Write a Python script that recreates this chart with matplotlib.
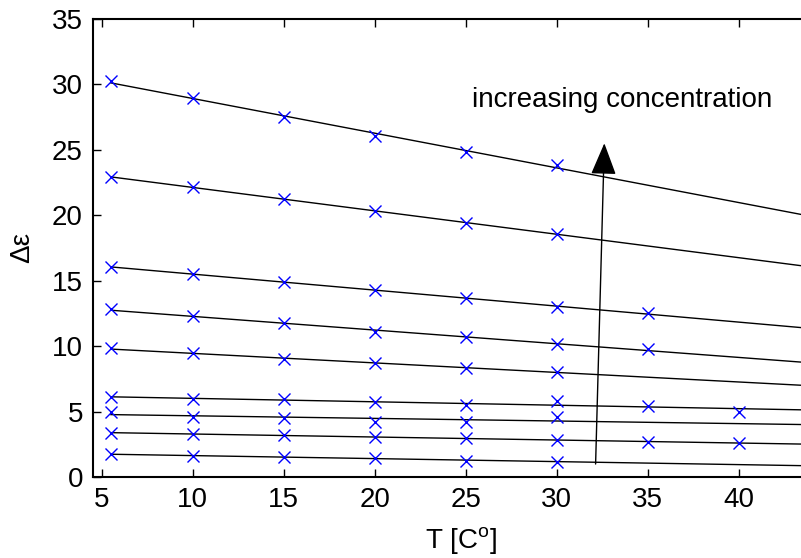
import numpy as np
import matplotlib
matplotlib.use("Agg")
import matplotlib.pyplot as plt

plt.rcParams['font.family'] = ['Liberation Sans', 'DejaVu Sans']

# temperature points (deg C)
T_all = [5.5, 10, 15, 20, 25, 30, 35, 40]

# delta epsilon per concentration, top to bottom
d1 = [30.25, 28.93, 27.53, 26.08, 24.85, 23.84]
d2 = [22.94, 22.13, 21.21, 20.35, 19.43, 18.56]
d3 = [16.07, 15.51, 14.87, 14.29, 13.65, 13.01, 12.50]
d4 = [12.81, 12.30, 11.74, 11.10, 10.67, 10.14, 9.78]
d5 = [9.83, 9.45, 9.01, 8.68, 8.35, 8.04]
d6 = [6.09, 5.96, 5.93, 5.71, 5.50, 5.83, 5.42, 4.99]
d7 = [4.99, 4.61, 4.53, 4.23, 4.18, 4.61]
d8 = [3.34, 3.28, 3.21, 3.08, 2.95, 2.83, 2.70, 2.57]
d9 = [1.73, 1.63, 1.50, 1.48, 1.25, 1.17]
series = [d1, d2, d3, d4, d5, d6, d7, d8, d9]

x_ticks = [5, 10, 15, 20, 25, 30, 35, 40]
y_ticks = [0, 5, 10, 15, 20, 25, 30, 35]

fig = plt.figure(figsize=(8.01, 5.58), dpi=100)
ax = fig.add_axes([0.1157, 0.1452, 0.92, 0.8208])

x_fit = np.array([5.5, 45.0])
for d in series:
    t = np.array(T_all[:len(d)])
    y = np.array(d)
    k, b = np.polyfit(t, y, 1)
    ax.plot(x_fit, k * x_fit + b, color='k', lw=1.0)
    ax.plot(t, y, 'x', color='#0000ff', ms=9, mew=1.0, ls='none')

ax.annotate('', xy=(32.62, 25.5), xytext=(32.14, 0.99),
            arrowprops=dict(arrowstyle='-|>,head_length=2.0,head_width=0.8',
                            color='k', lw=1.0, shrinkA=0, shrinkB=0))
ax.text(25.33, 28.8, 'increasing concentration', fontsize=20, va='center', ha='left')

ax.set_xlim(4.5, 45)
ax.set_ylim(0, 35)
ax.set_xticks(x_ticks)
ax.set_yticks(y_ticks)
ax.tick_params(direction='in', length=6, width=1, labelsize=20, top=True, right=True, pad=7)
for s in ax.spines.values():
    s.set_linewidth(1.5)
ax.set_xlabel('T [C$^\\mathregular{o}$]', fontsize=20, labelpad=9)
ax.set_ylabel('Δε', fontsize=20, labelpad=12)

fig.savefig('out.png', dpi=100)
